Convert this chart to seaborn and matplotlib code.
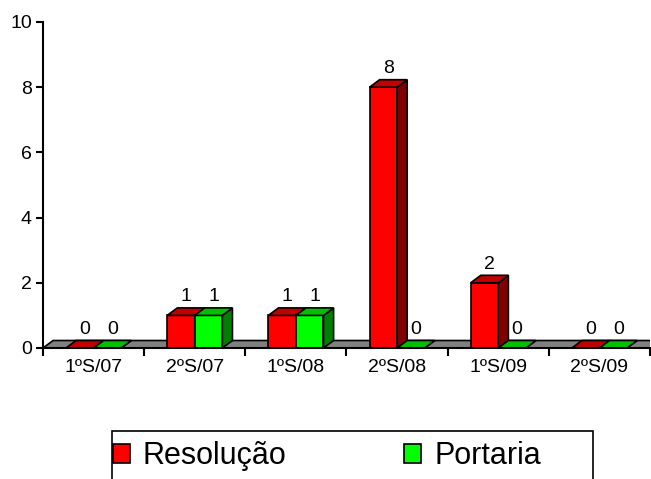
import pandas as pd
import seaborn as sns
import matplotlib.pyplot as plt
from matplotlib.patches import Polygon, Rectangle, Patch

# Data
semesters = ["1ºS/07", "2ºS/07", "1ºS/08", "2ºS/08", "1ºS/09", "2ºS/09"]
resolucao = [0, 1, 1, 8, 2, 0]
portaria = [0, 1, 1, 0, 0, 0]
series = ["Resolução", "Portaria"]
y_ticks = [0, 2, 4, 6, 8, 10]

# Colours of the three visible faces of each 3D bar
front = {"Resolução": "#FF0000", "Portaria": "#00FF00"}
top = {"Resolução": "#C00000", "Portaria": "#00C000"}
side = {"Resolução": "#800000", "Portaria": "#008000"}

df = pd.DataFrame({
    "Semestre": semesters * 2,
    "Serie": [series[0]] * len(semesters) + [series[1]] * len(semesters),
    "Valor": resolucao + portaria,
})

sns.set_style("white")
plt.rcParams["font.family"] = ["Liberation Sans", "DejaVu Sans"]
plt.rcParams.update({"text.color": "black", "xtick.color": "black",
                     "ytick.color": "black", "axes.labelcolor": "black"})

fig = plt.figure(figsize=(6.51, 4.79), dpi=100)
ax = fig.add_axes([43 / 651, 1 - 348 / 479, 607 / 651, 326 / 479])

sns.barplot(data=df, x="Semestre", y="Valor", hue="Serie", hue_order=series,
            palette=front, saturation=1, width=0.545, edgecolor="black",
            linewidth=1.2, legend=False, ax=ax)

# depth of the fake 3D effect, in data units
dx, dy = 0.1, 0.23

# floor
floor = Polygon([(-0.5, 0), (5.5, 0), (5.5 + dx, dy), (-0.5 + dx, dy)],
                closed=True, facecolor="#808080", edgecolor="black", lw=1.2, zorder=1)
ax.add_patch(floor)

for z, (cont, name) in enumerate(zip(ax.containers, series)):
    for bar in cont:
        x0, w, h = bar.get_x(), bar.get_width(), bar.get_height()
        x1 = x0 + w
        bar.set_zorder(3 + z)
        sd = Polygon([(x1, 0), (x1 + dx, dy), (x1 + dx, h + dy), (x1, h)], closed=True,
                     facecolor=side[name], edgecolor="black", lw=1.2, zorder=3 + z)
        tp = Polygon([(x0, h), (x1, h), (x1 + dx, h + dy), (x0 + dx, h + dy)], closed=True,
                     facecolor=top[name], edgecolor="black", lw=1.2, zorder=3 + z)
        ax.add_patch(sd)
        ax.add_patch(tp)
        ax.annotate(f"{h:.0f}", (x0 + w / 2 + dx / 2, h + dy), xytext=(0, 2),
                    textcoords="offset points", ha="center", va="bottom",
                    fontsize=14, color="black")

ax.set_xlim(-0.5, 5.5)
ax.set_ylim(0, 10)
ax.set_yticks(y_ticks)
ax.set_xticks(range(len(semesters)))
ax.set_xticklabels(semesters)
ax.set_xticks([i - 0.5 for i in range(len(semesters) + 1)], minor=True)
ax.set_xlabel("")
ax.set_ylabel("")
ax.tick_params(axis="x", which="major", bottom=True, length=0, pad=8, labelsize=14,
               labelcolor="black")
ax.tick_params(axis="x", which="minor", bottom=True, length=6, width=1.5, direction="out",
               color="black")
ax.tick_params(axis="y", left=True, length=5, width=1.5, pad=3, labelsize=14, direction="out",
               color="black", labelcolor="black")
for s in ["top", "right"]:
    ax.spines[s].set_visible(False)
for s in ["left", "bottom"]:
    ax.spines[s].set_color("black")
    ax.spines[s].set_linewidth(1.5)
    ax.spines[s].set_zorder(6)

# legend with a frame running off the bottom of the picture
handles = [Patch(facecolor=front[n], edgecolor="black", lw=1.2) for n in series]
leg = fig.legend(handles, series, loc="center left", bbox_to_anchor=(113 / 651, 1 - 456 / 479),
                 ncol=2, frameon=False, fontsize=22, handlelength=0.56, handleheight=0.56,
                 handletextpad=0.42, columnspacing=3.85, borderpad=0, borderaxespad=0)
for t in leg.get_texts():
    t.set_color("black")
fig.add_artist(Rectangle((112 / 651, -5 / 479), (593 - 112) / 651, (53) / 479,
                         transform=fig.transFigure, fill=False, edgecolor="black", lw=1.2))

fig.savefig("out.png", dpi=100)
